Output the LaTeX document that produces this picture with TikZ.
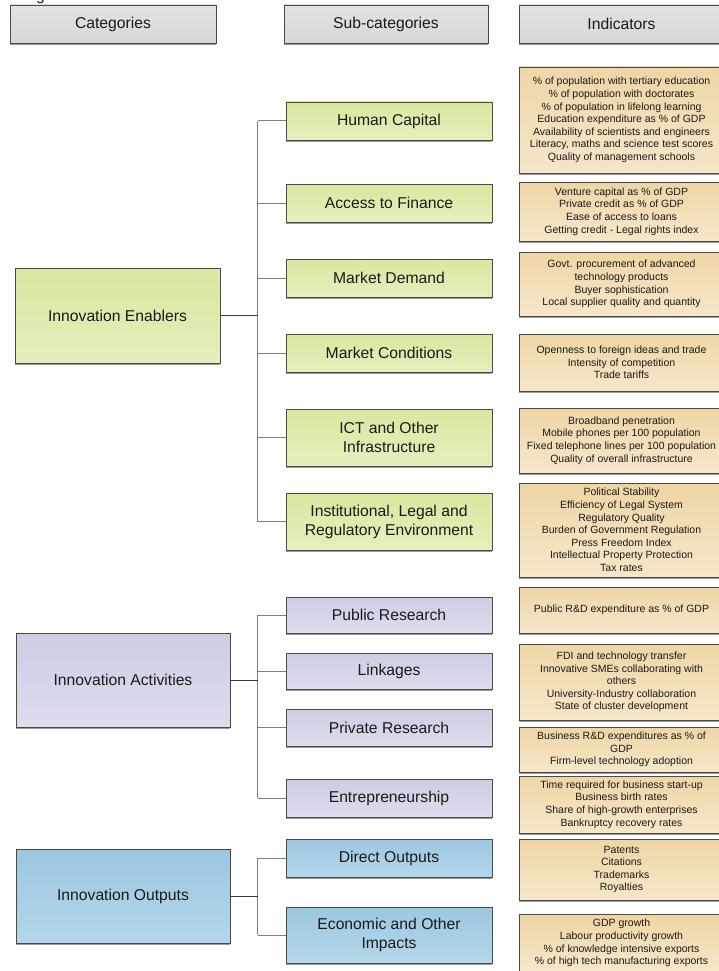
\documentclass[tikz,border=0pt]{standalone}
\usepackage{fontspec}
\setmainfont{Liberation Sans}
\usetikzlibrary{shadows}
\definecolor{txt}{HTML}{1A1A1A}
\definecolor{bordc}{HTML}{4A4A4A}
\definecolor{shadc}{HTML}{9A9A9A}
\definecolor{hdrT}{HTML}{E2E2E2}
\definecolor{hdrB}{HTML}{D8D8D8}
\definecolor{grnT}{HTML}{D8E7A0}
\definecolor{grnB}{HTML}{E4F0BC}
\definecolor{purT}{HTML}{CDCDE3}
\definecolor{purB}{HTML}{DDDDEE}
\definecolor{bluT}{HTML}{9CC7DF}
\definecolor{bluB}{HTML}{B4D7EA}
\definecolor{tanT}{HTML}{EFD5A5}
\definecolor{tanB}{HTML}{F6E7CA}
\definecolor{catln}{HTML}{3C3C3C}
\definecolor{brln}{HTML}{808080}
\tikzset{
  box/.style={draw=bordc, line width=0.9pt, text=txt, align=center, inner sep=0pt,
    font=\fontsize{15.7}{19}\selectfont,
    drop shadow={shadow xshift=0pt, shadow yshift=-2.2pt, fill=shadc, opacity=1}},
  hdrbox/.style={box, top color=hdrT, bottom color=hdrB},
  grnbox/.style={box, top color=grnT, bottom color=grnB},
  purbox/.style={box, top color=purT, bottom color=purB},
  blubox/.style={box, top color=bluT, bottom color=bluB},
  indbox/.style={box, top color=tanT, bottom color=tanB, font=\fontsize{10.5}{12.6}\selectfont},
  catline/.style={draw=catln, line width=1pt},
  brline/.style={draw=brln, line width=1pt},
  sz/.style 2 args={minimum width=#1pt, minimum height=#2pt}
}
\begin{document}
\begin{tikzpicture}[x=1pt,y=-1pt]
\useasboundingbox[fill=white] (0,0) rectangle (718,971);
\node[anchor=base west, inner sep=0pt, text=txt, font=\fontsize{15.7}{19}\selectfont] (frag) at (36,0.5) {g};
% headers
\node[hdrbox, sz={206}{38}] (hcat) at (113,24) {Categories};
\node[hdrbox, sz={204}{38}] (hsub) at (386,24) {Sub-categories};
\node[hdrbox, sz={205}{38}] (hind) at (621.5,24) {Indicators};
% categories
\node[grnbox, sz={205}{95}] (en) at (117.5,315.5) {Innovation Enablers};
\node[purbox, sz={214}{94}] (ac) at (123,680) {Innovation Activities};
\node[blubox, sz={214}{94}] (ou) at (123,896) {Innovation Outputs};
% sub-categories
\node[grnbox, sz={206}{38}] (hc) at (389,121) {Human Capital};
\node[grnbox, sz={206}{38}] (af) at (389,203) {Access to Finance};
\node[grnbox, sz={206}{38}] (md) at (389,278) {Market Demand};
\node[grnbox, sz={206}{38}] (mc) at (389,353) {Market Conditions};
\node[grnbox, sz={206}{57}] (ict) at (389,437.5) {ICT and Other\\Infrastructure};
\node[grnbox, sz={206}{57}] (inst) at (389,521.5) {Institutional, Legal and\\Regulatory Environment};
\node[purbox, sz={206}{36}] (pr) at (389,615) {Public Research};
\node[purbox, sz={206}{36}] (lk) at (389,671) {Linkages};
\node[purbox, sz={206}{37}] (pv) at (389,727.5) {Private Research};
\node[purbox, sz={206}{38}] (ep) at (389,798) {Entrepreneurship};
\node[blubox, sz={206}{38}] (do) at (389,858) {Direct Outputs};
\node[blubox, sz={206}{56}] (ec) at (389,935) {Economic and Other\\Impacts};
% indicators
\node[indbox, sz={205}{106}] (ihc) at (621.5,120) {\% of population with tertiary education\\\% of population with doctorates\\\% of population in lifelong learning\\Education expenditure as \% of GDP\\Availability of scientists and engineers\\Literacy, maths and science test scores\\Quality of management schools};
\node[indbox, sz={205}{59}] (iaf) at (621.5,211.5) {Venture capital as \% of GDP\\Private credit as \% of GDP\\Ease of access to loans\\Getting credit - Legal rights index};
\node[indbox, sz={205}{64}] (imd) at (621.5,284) {Govt. procurement of advanced\\technology products\\Buyer sophistication\\Local supplier quality and quantity};
\node[indbox, sz={205}{57}] (imc) at (621.5,362.5) {Openness to foreign ideas and trade\\Intensity of competition\\Trade tariffs};
\node[indbox, sz={205}{65}] (iict) at (621.5,440.5) {Broadband penetration\\Mobile phones per 100 population\\Fixed telephone lines per 100 population\\Quality of overall infrastructure};
\node[indbox, sz={205}{94}] (iinst) at (621.5,530) {Political Stability\\Efficiency of Legal System\\Regulatory Quality\\Burden of Government Regulation\\Press Freedom Index\\Intellectual Property Protection\\Tax rates};
\node[indbox, sz={205}{46}] (ipr) at (621.5,610) {Public R\&D expenditure as \% of GDP};
\node[indbox, sz={205}{76}] (ilk) at (621.5,682) {FDI and technology transfer\\Innovative SMEs collaborating with\\others\\University-Industry collaboration\\State of cluster development};
\node[indbox, sz={205}{45}] (ipv) at (621.5,749.5) {Business R\&D expenditures as \% of\\GDP\\Firm-level technology adoption};
\node[indbox, sz={205}{57}] (iep) at (621.5,804.5) {Time required for business start-up\\Business birth rates\\Share of high-growth enterprises\\Bankruptcy recovery rates};
\node[indbox, sz={205}{61}] (ido) at (621.5,869.5) {Patents\\Citations\\Trademarks\\Royalties};
\node[indbox, sz={205}{58}] (iec) at (621.5,943) {GDP growth\\Labour productivity growth\\\% of knowledge intensive exports\\\% of high tech manufacturing exports};
% trunks
\coordinate (tE) at (257.5,0);
\coordinate (tA) at (257.5,0);
\coordinate (tO) at (257.5,0);
\draw[brline] (hc.west -| tE) -- (inst.west -| tE);
\foreach \n in {hc,af,md,mc,ict,inst} \draw[brline] (\n.west) -- (\n.west -| tE);
\draw[catline] (en.east) -- (en.east -| tE);
\draw[brline] (pr.west -| tA) -- (ep.west -| tA);
\foreach \n in {pr,lk,pv,ep} \draw[brline] (\n.west) -- (\n.west -| tA);
\draw[catline] (ac.east) -- (ac.east -| tA);
\draw[brline] (do.west -| tO) -- (ec.west -| tO);
\foreach \n in {do,ec} \draw[brline] (\n.west) -- (\n.west -| tO);
\draw[catline] (ou.east) -- (ou.east -| tO);
\end{tikzpicture}
\end{document}
